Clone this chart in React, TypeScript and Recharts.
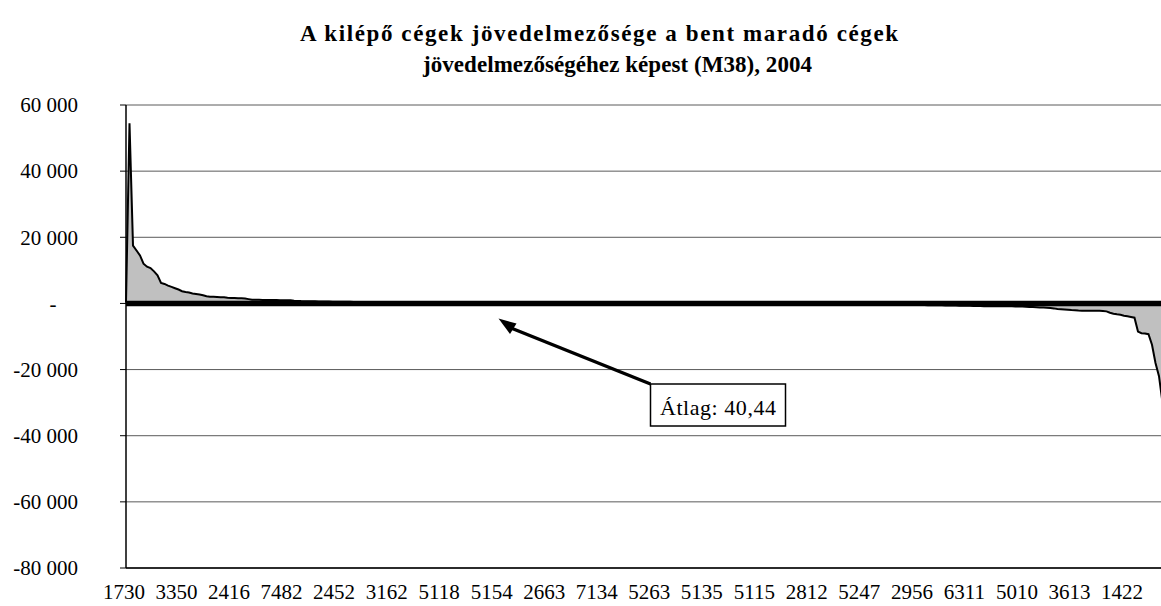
import React from 'react';
import { Area, AreaChart, CartesianGrid, ReferenceLine, XAxis, YAxis } from 'recharts';

// category codes shown under the axis (every 15th company)
const tickLabels = [
  '1730', '3350', '2416', '7482', '2452', '3162', '5118', '5154', '2663', '7134',
  '5263', '5135', '5115', '2812', '5247', '2956', '6311', '5010', '3613', '1422',
];
const LABEL_STEP = 15;

const yTicks = [60000, 40000, 20000, 0, -20000, -40000, -60000, -80000];

// profitability difference, sorted — head (big positive values)
const headValues = [
  300, 54500, 17500, 16000, 14500, 12000, 11100, 10700, 9700, 8500,
  6200, 5900, 5400, 5000, 4600, 4200, 3700, 3450, 3300, 3000,
  2850, 2700, 2450, 2150, 2030, 2000, 1950, 1900, 1850, 1700,
  1650, 1640, 1600, 1550, 1500, 1300, 1120, 1100, 1080, 1060,
  1050, 1040, 1020, 1000, 990, 980, 960, 950, 820, 750,
];

// the long near-zero stretch hidden in the thick zero line
const midPositive = [
  700, 690, 665, 650, 630, 610, 590, 575, 560, 540,
  525, 510, 500, 485, 470, 460, 445, 430, 420, 410,
  400, 390, 385, 375, 365, 355, 350, 340, 330, 325,
  315, 310, 300, 295, 285, 280, 270, 265, 260, 250,
  245, 240, 230, 225, 220, 215, 210, 200, 195, 190,
  185, 180, 175, 170, 165, 160, 155, 150, 145, 140,
  138, 135, 130, 127, 124, 120, 117, 114, 110, 107,
  105, 102, 100, 97, 94, 90, 88, 85, 82, 80,
];
const midAroundZero = [
  77, 75, 72, 70, 67, 65, 62, 60, 57, 55,
  52, 50, 48, 45, 43, 40, 38, 35, 33, 30,
  28, 25, 23, 20, 18, 15, 12, 10, 8, 5,
  3, 0, -2, -5, -8, -10, -13, -15, -18, -20,
  -23, -26, -30, -33, -36, -40, -43, -47, -50, -54,
  -58, -62, -66, -70, -74, -78, -83, -88, -93, -98,
];
const midNegative = [
  -104, -110, -116, -122, -128, -135, -142, -150, -157, -165,
  -173, -181, -190, -198, -207, -216, -225, -235, -245, -255,
  -265, -275, -286, -297, -308, -320, -332, -344, -357, -370,
  -383, -396, -410, -424, -438, -452, -467, -482, -498, -514,
  -530, -547, -564, -581, -599, -617, -636, -655, -674, -694,
  -714, -734, -755, -776, -797, -818, -840, -850, -860, -870,
  -875, -880, -885, -890, -895, -900,
];

// tail (big negative values)
const tailValues = [
  -900, -1000, -1050, -1100, -1150, -1200, -1250, -1300, -1400, -1500,
  -1700, -1750, -1800, -1900, -2000, -2050,
  -2150, -2200, -2200, -2200, -2200, -2200,
  -2250, -2300, -2400, -2800, -3100, -3300, -3450, -3700, -3900, -4100, -4300,
  -8500, -9000, -9100, -9300, -12500, -18000, -22000,
  -30000, -43000, -57000, -70000,
];

const values = [...headValues, ...midPositive, ...midAroundZero, ...midNegative, ...tailValues];
const data = values.map((v, i) => ({ idx: i, value: v }));
const xTicks = tickLabels.map((_, i) => i * LABEL_STEP);

const FONT = '"Liberation Serif", "Times New Roman", serif';

const fmt = (v: number) => {
  const s = Math.abs(v).toString().replace(/\B(?=(\d{3})+(?!\d))/g, ' ');
  return (v < 0 ? '-' : '') + s;
};

const YTick = (props: any) => {
  const { y, payload } = props;
  if (payload.value === 0) {
    return (
      <text x={53} y={y} dy="0.35em" textAnchor="middle" fontSize={21} fontFamily={FONT} fill="#000">
        -
      </text>
    );
  }
  return (
    <text x={78} y={y} dy="0.35em" textAnchor="end" fontSize={21} fontFamily={FONT} fill="#000">
      {fmt(payload.value)}
    </text>
  );
};

const XTick = (props: any) => {
  const { x, payload } = props;
  return (
    <text x={x - 2} y={599} textAnchor="middle" fontSize={21} fontFamily={FONT} fill="#000">
      {tickLabels[Math.round(payload.value / LABEL_STEP)]}
    </text>
  );
};

const App: React.FC = () => (
  <div style={{ position: 'fixed', left: 0, top: 0, width: 1161, height: 606, overflow: 'hidden', background: '#fff' }}>
    <AreaChart width={1180} height={606} data={data} margin={{ top: 105, right: 7, left: 0, bottom: 0 }}>
      <CartesianGrid vertical={false} stroke="#5a5a5a" />
      <XAxis
        dataKey="idx"
        type="number"
        domain={[0, values.length - 1]}
        ticks={xTicks}
        interval={0}
        height={38}
        tickLine={false}
        axisLine={{ stroke: '#000', strokeWidth: 1.5 }}
        tick={<XTick />}
      />
      <YAxis
        width={126}
        domain={[-80000, 60000]}
        ticks={yTicks}
        interval={0}
        tickSize={6}
        tickLine={{ stroke: '#000' }}
        axisLine={{ stroke: '#000', strokeWidth: 1.5 }}
        tick={<YTick />}
      />
      <Area
        type="linear"
        dataKey="value"
        baseValue={0}
        stroke="#000"
        strokeWidth={2}
        fill="#c0c0c0"
        fillOpacity={1}
        dot={false}
        activeDot={false}
        isAnimationActive={false}
      />
      <ReferenceLine y={0} stroke="#000" strokeWidth={5.5} />
    </AreaChart>
    <svg width={1161} height={606} style={{ position: 'absolute', left: 0, top: 0, pointerEvents: 'none' }}>
      <text x={300} y={41} textLength={598} lengthAdjust="spacing" fontSize={23} fontWeight="bold" fontFamily={FONT} fill="#000">
        A kilépő cégek jövedelmezősége a bent maradó cégek
      </text>
      <text x={423} y={72} textLength={389} lengthAdjust="spacing" fontSize={23} fontWeight="bold" fontFamily={FONT} fill="#000">
        jövedelmezőségéhez képest (M38), 2004
      </text>
      <line x1={650.5} y1={384} x2={511} y2={328} stroke="#000" strokeWidth={3.5} />
      <polygon points="498.5,318.5 516.5,323.5 510,334" fill="#000" />
      <rect x={650.5} y={384} width={135} height={42} fill="#fff" stroke="#000" strokeWidth={1.5} />
      <text x={660} y={415} textLength={116} lengthAdjust="spacing" fontSize={22} fontFamily={FONT} fill="#000">
        Átlag: 40,44
      </text>
    </svg>
  </div>
);

export default App;
